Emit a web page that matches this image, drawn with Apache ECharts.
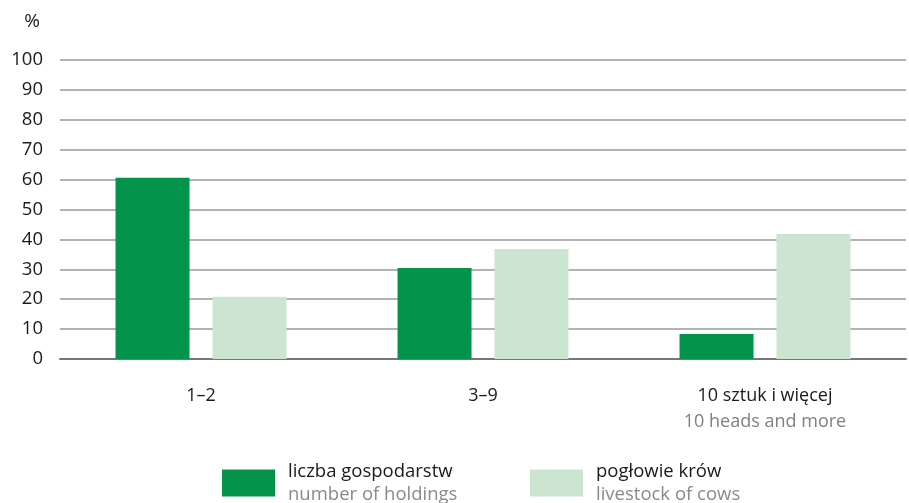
<!DOCTYPE html>
<html>
<head>
<meta charset="utf-8">
<script src="https://cdn.jsdelivr.net/npm/echarts@6/dist/echarts.min.js"></script>
<style>html,body{margin:0;padding:0;background:#fff}#c{width:909px;height:503px}</style>
</head>
<body>
<div id="c"></div>
<script>
var categoriesPL = ['1–2', '3–9', '10 sztuk i więcej'];
var categoriesEN = ['', '', '10 heads and more'];
var holdings = [60.6, 30.4, 8.4];
var cows = [20.8, 36.8, 41.8];
var seriesPL = ['liczba gospodarstw', 'pogłowie krów'];
var seriesEN = ['number of holdings', 'livestock of cows'];
var yTicks = [0, 10, 20, 30, 40, 50, 60, 70, 80, 90, 100];

var FONT = 'Open Sans';
var chart = echarts.init(document.getElementById('c'));
var legendFormatter = function (name) {
  var i = seriesPL.indexOf(name);
  return '{a|' + name + '}\n{b|' + seriesEN[i] + '}';
};
var legendRich = {
  a: {fontFamily: FONT, fontSize: 18.5, color: '#1a1a1a', lineHeight: 23},
  b: {fontFamily: FONT, fontSize: 18.5, color: '#8a8a8a', lineHeight: 23}
};
chart.setOption({
  animation: false,
  textStyle: {fontFamily: FONT},
  grid: {left: 60, right: 3, top: 60, bottom: 144, containLabel: false},
  legend: [
    {data: [seriesPL[0]], left: 222, top: 462, padding: 0, itemWidth: 53, itemHeight: 27, itemGap: 0,
     icon: 'rect', formatter: legendFormatter, textStyle: {rich: legendRich, padding: [0, 0, 0, 8]}},
    {data: [seriesPL[1]], left: 530, top: 462, padding: 0, itemWidth: 53, itemHeight: 27, itemGap: 0,
     icon: 'rect', formatter: legendFormatter, textStyle: {rich: legendRich, padding: [0, 0, 0, 8]}}
  ],
  xAxis: {
    type: 'category',
    data: categoriesPL,
    axisTick: {show: false},
    axisLine: {lineStyle: {color: '#777', width: 2}},
    axisLabel: {
      margin: 24,
      formatter: function (v, i) {
        return categoriesEN[i] ? '{a|' + v + '}\n{b|' + categoriesEN[i] + '}' : '{a|' + v + '}';
      },
      rich: {
        a: {fontFamily: FONT, fontSize: 18, color: '#1a1a1a', lineHeight: 26},
        b: {fontFamily: FONT, fontSize: 18, color: '#808080', lineHeight: 26}
      }
    }
  },
  yAxis: {
    type: 'value',
    min: yTicks[0],
    max: yTicks[yTicks.length - 1],
    interval: 10,
    name: '%',
    nameLocation: 'end',
    nameGap: 29,
    nameTextStyle: {fontFamily: FONT, fontSize: 19, color: '#1a1a1a', align: 'right', padding: [0, 20, 0, 0]},
    axisLine: {show: false},
    axisTick: {show: false},
    axisLabel: {margin: 17, fontFamily: FONT, fontSize: 18.5, color: '#1a1a1a'},
    splitLine: {lineStyle: {color: '#9a9a9a', width: 1.5}}
  },
  series: [
    {name: seriesPL[0], type: 'bar', data: holdings, barWidth: 74, barGap: '31%',
     itemStyle: {color: '#03934b'}},
    {name: seriesPL[1], type: 'bar', data: cows, barWidth: 74,
     itemStyle: {color: '#cce5d0'}}
  ]
});
</script>
</body>
</html>
